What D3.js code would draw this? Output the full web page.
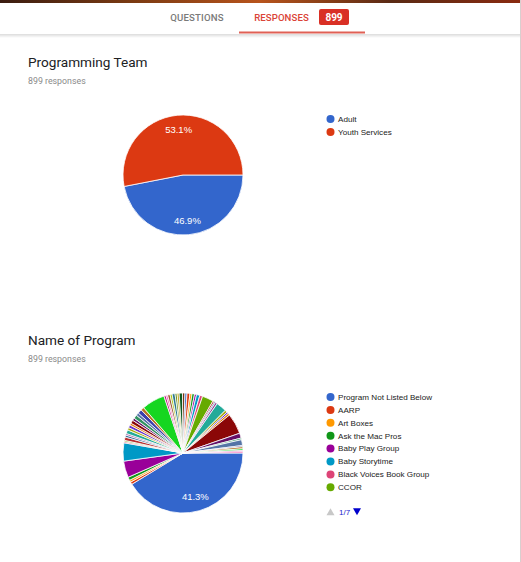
<!DOCTYPE html>
<html>
<head>
<meta charset="utf-8">
<script src="https://cdn.jsdelivr.net/npm/d3@7"></script>
<style>
  html, body { margin: 0; padding: 0; background: #fff; }
  svg { display: block; }
</style>
</head>
<body>
<svg id="page"></svg>
<script>
// tab bar
const tabLabels = ["QUESTIONS", "RESPONSES"];
const responseTotal = 899;

// question 1
const teamTitle = "Programming Team";
const teamLabels = ["Adult", "Youth Services"];
const teamCounts = [422, 477];

// question 2 (legend shows page 1 of 7)
const programTitle = "Name of Program";
const programLegendPage = [
  "Program Not Listed Below",
  "AARP",
  "Art Boxes",
  "Ask the Mac Pros",
  "Baby Play Group",
  "Baby Storytime",
  "Black Voices Book Group",
  "CCOR",
];
const programPager = "1/7";
const programCounts = [
  371, 6, 5, 8, 40, 44, 3, 3,
  8, 5, 4, 9, 6, 7, 5, 8, 6, 9, 7, 10, 8,
  56,
  5, 4, 6, 5, 7, 5, 5, 8, 6, 5, 7, 5, 6, 5, 8, 7,
  27, 4, 3, 5, 25, 6, 4, 5, 50, 12, 4, 14, 3, 5, 4, 3, 3,
];

// google charts default palette
const palette = [
  "#3366cc", "#dc3912", "#ff9900", "#109618", "#990099", "#0099c6",
  "#dd4477", "#66aa00", "#b82e2e", "#316395", "#994499", "#22aa99",
  "#aaaa11", "#6633cc", "#e67300", "#8b0707", "#651067", "#329262",
  "#5574a6", "#3b3eac", "#b77322", "#16d620", "#b91383", "#f4359e",
  "#9c5935", "#a9c413", "#2a778d", "#668d1c", "#bea413", "#0c5922",
  "#743411",
];

const W = 521, H = 562;
const svg = d3.select("#page").attr("width", W).attr("height", H);

// ---- header ----
const defs = svg.append("defs");
const strip = defs.append("linearGradient").attr("id", "strip");
[["0%", "#3a1c10"], ["25%", "#7a3a12"], ["50%", "#b8541c"], ["75%", "#5a2a14"], ["100%", "#8a2a10"]]
  .forEach(([o, c]) => strip.append("stop").attr("offset", o).attr("stop-color", c));
const shadow = defs.append("linearGradient").attr("id", "shadow")
  .attr("x1", 0).attr("x2", 0).attr("y1", 0).attr("y2", 1);
shadow.append("stop").attr("offset", "0%").attr("stop-color", "#000").attr("stop-opacity", 0.14);
shadow.append("stop").attr("offset", "100%").attr("stop-color", "#000").attr("stop-opacity", 0);

svg.append("rect").attr("width", W).attr("height", 3).attr("fill", "url(#strip)");
svg.append("rect").attr("y", 3).attr("width", W).attr("height", 31).attr("fill", "#fff");
svg.append("rect").attr("y", 34).attr("width", W).attr("height", 4).attr("fill", "url(#shadow)");
svg.append("line").attr("x1", 520.5).attr("x2", 520.5).attr("y1", 0).attr("y2", H)
  .attr("stroke", "#d9cfcf").attr("stroke-width", 1);

const tabFont = "Roboto, 'Open Sans', sans-serif";
svg.append("text").attr("x", 197).attr("y", 21).attr("text-anchor", "middle")
  .attr("font-family", tabFont).attr("font-weight", 500).attr("font-size", 9.6)
  .attr("letter-spacing", 0.2).attr("fill", "#7a7a7a").text(tabLabels[0]);
svg.append("text").attr("x", 281.5).attr("y", 21).attr("text-anchor", "middle")
  .attr("font-family", tabFont).attr("font-weight", 500).attr("font-size", 9.6)
  .attr("letter-spacing", 0.1).attr("fill", "#db4437").text(tabLabels[1]);
svg.append("rect").attr("x", 319).attr("y", 9).attr("width", 30).attr("height", 16)
  .attr("rx", 2).attr("fill", "#d93025");
svg.append("text").attr("x", 334).attr("y", 21).attr("text-anchor", "middle")
  .attr("font-family", tabFont).attr("font-weight", 700).attr("font-size", 10)
  .attr("fill", "#fff").text(responseTotal);
svg.append("rect").attr("x", 239).attr("y", 31.5).attr("width", 126).attr("height", 2)
  .attr("fill", "#e06055");

const legendFont = "'Liberation Sans', Arial, sans-serif";

// ---- one summary block ----
function drawQuestion(top, title, counts, legendLabels, pager) {
  const g = svg.append("g").attr("transform", `translate(0, ${top})`);

  g.append("text").attr("x", 28).attr("y", 0)
    .attr("font-family", "Roboto, sans-serif").attr("font-size", 13.6)
    .attr("fill", "#202124").text(title);
  g.append("text").attr("x", 28).attr("y", 17)
    .attr("font-family", "Roboto, sans-serif").attr("font-size", 8.8)
    .attr("fill", "#8a8a8a").text(`${d3.sum(counts)} responses`);

  const cx = 183, cy = 108, r = 60;
  const total = d3.sum(counts);
  const pie = d3.pie().sort(null)
    .startAngle(Math.PI / 2).endAngle(Math.PI / 2 + 2 * Math.PI);
  const arc = d3.arc().innerRadius(0).outerRadius(r);
  const labelArc = d3.arc().innerRadius(r * 0.76).outerRadius(r * 0.76);

  const pg = g.append("g").attr("transform", `translate(${cx}, ${cy})`);
  const slices = pie(counts);
  pg.selectAll("path").data(slices).join("path")
    .attr("d", arc)
    .attr("fill", (d, i) => palette[i % palette.length])
    .attr("stroke", "#fff").attr("stroke-width", 0.8);

  pg.selectAll("text").data(slices.filter(d => d.value / total > 0.1)).join("text")
    .attr("transform", d => `translate(${labelArc.centroid(d)})`)
    .attr("text-anchor", "middle").attr("dy", "0.35em")
    .attr("font-family", legendFont).attr("font-size", 9.5)
    .attr("fill", "#fff")
    .text(d => (d.value / total * 100).toFixed(1) + "%");

  const lg = g.append("g").attr("transform", `translate(330.5, 52)`);
  const step = 12.9;
  const rows = lg.selectAll("g").data(legendLabels).join("g")
    .attr("transform", (d, i) => `translate(0, ${i * step})`);
  rows.append("circle").attr("r", 4).attr("fill", (d, i) => palette[i]);
  rows.append("text").attr("x", 7.5).attr("dy", "0.35em")
    .attr("font-family", legendFont).attr("font-size", 8.1)
    .attr("fill", "#222").text(d => d);

  if (pager) {
    const py = (legendLabels.length - 1) * step + 24.5;
    lg.append("path").attr("d", `M-4,${py + 3.5}L0,${py - 3.5}L4,${py + 3.5}Z`)
      .attr("fill", "#c8c8c8");
    lg.append("text").attr("x", 8.5).attr("y", py).attr("dy", "0.35em")
      .attr("font-family", legendFont).attr("font-size", 8)
      .attr("fill", "#1a1acc").text(pager);
    lg.append("path").attr("d", `M22.5,${py - 3.5}L30.5,${py - 3.5}L26.5,${py + 3.5}Z`)
      .attr("fill", "#0000cc");
  }
}

drawQuestion(67, teamTitle, teamCounts, teamLabels, null);
drawQuestion(345, programTitle, programCounts, programLegendPage, programPager);
</script>
</body>
</html>
